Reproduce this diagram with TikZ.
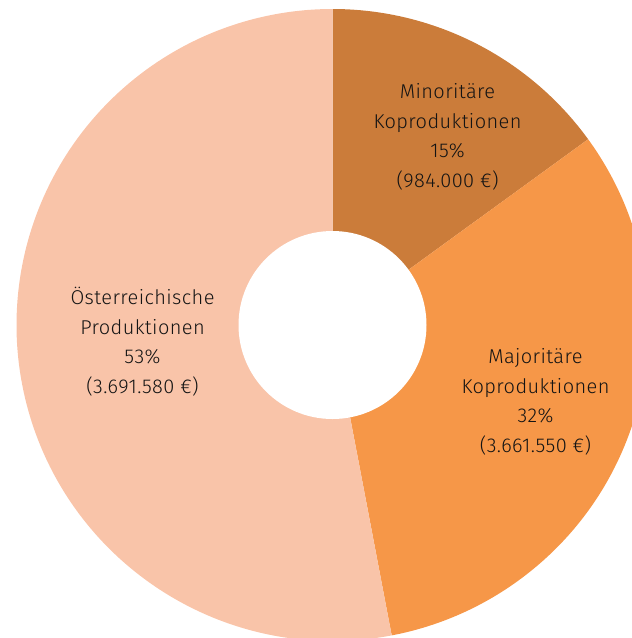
\documentclass[tikz,border=0pt]{standalone}
\usepackage{fontspec}
\setmainfont{Fira Sans Light}[LetterSpace=2]
\definecolor{cmin}{RGB}{203,124,58}
\definecolor{cmaj}{RGB}{246,151,72}
\definecolor{caut}{RGB}{249,196,169}
\definecolor{ctext}{RGB}{20,20,20}
\begin{document}
\begin{tikzpicture}[x=1pt,y=1pt,
  lbl/.style={align=center, font=\fontsize{20}{29.5}\selectfont, text=ctext, inner sep=0pt}]
\useasboundingbox (0,0) rectangle (632,-638);
\clip (0,0) rectangle (632,-638);
\coordinate (c) at (332.5,-325);
\fill[cmin] (c) -- ++(90:316) arc[start angle=90, end angle=36, radius=316] -- cycle;
\fill[cmaj] (c) -- ++(36:316) arc[start angle=36, end angle=-79.2, radius=316] -- cycle;
\fill[caut] (c) -- ++(-79.2:316) arc[start angle=-79.2, end angle=-270, radius=316] -- cycle;
\fill[white] (c) circle[radius=94];
\node[lbl] (min) at (447.5,-137) {Minoritäre\\Koproduktionen\\15\%\\(984.000 €)};
\node[lbl] (maj) at (535.5,-402) {Majoritäre\\Koproduktionen\\32\%\\(3.661.550 €)};
\node[lbl] (aut) at (142.5,-341.5) {Österreichische\\Produktionen\\53\%\\(3.691.580 €)};
\end{tikzpicture}
\end{document}
